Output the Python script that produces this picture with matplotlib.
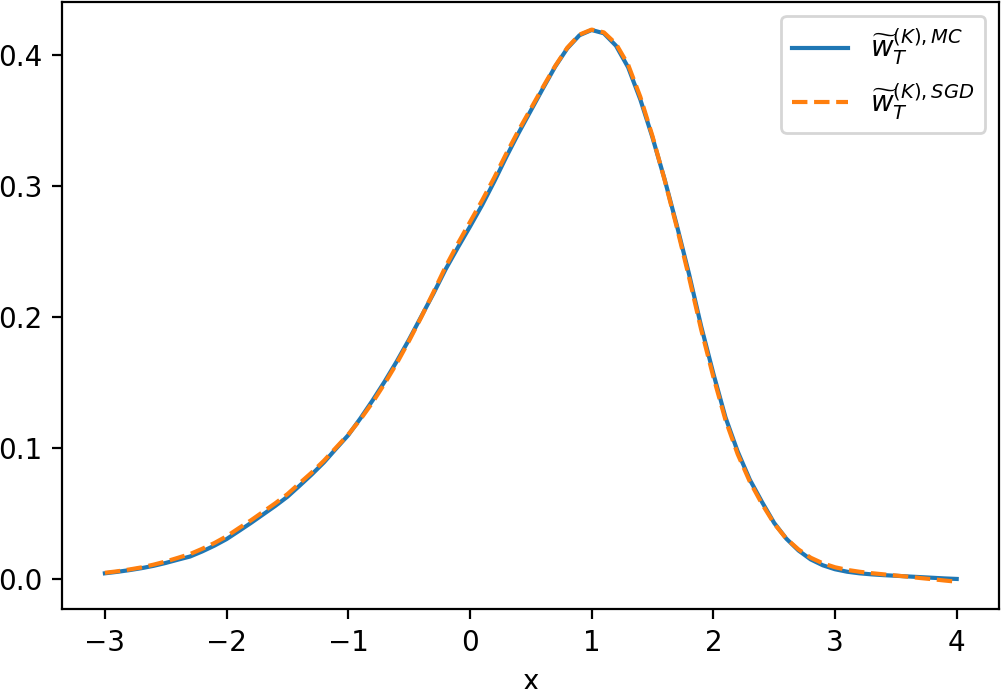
import numpy as np
import matplotlib
matplotlib.use('Agg')
import matplotlib.pyplot as plt

# grid (step 0.1) and both curves
x = np.round(np.arange(-3.0, 4.01, 0.1), 1)

w_mc = [0.0046, 0.0057, 0.0070, 0.0085, 0.0103, 0.0125, 0.0150, 0.0174, 0.0213, 0.0257,
        0.0307, 0.0368, 0.0430, 0.0495, 0.0560, 0.0630, 0.0714, 0.0800, 0.0892, 0.0997,
        0.1100, 0.1228, 0.1365, 0.1510, 0.1665, 0.1830, 0.2005, 0.2180, 0.2365, 0.2530,
        0.2690, 0.2855, 0.3035, 0.3225, 0.3405, 0.3575, 0.3745, 0.3910, 0.4050, 0.4150,
        0.4190, 0.4165, 0.4070, 0.3905, 0.3660, 0.3370, 0.3050, 0.2700, 0.2330, 0.1930,
        0.1570, 0.1235, 0.0975, 0.0760, 0.0590, 0.0430, 0.0310, 0.0220, 0.0152, 0.0107,
        0.0077, 0.0058, 0.0046, 0.0038, 0.0032, 0.0027, 0.0022, 0.0017, 0.0012, 0.0007,
        0.0003]

w_sgd = [0.0050, 0.0061, 0.0075, 0.0091, 0.0112, 0.0136, 0.0164, 0.0193, 0.0233, 0.0277,
         0.0328, 0.0390, 0.0450, 0.0515, 0.0580, 0.0650, 0.0733, 0.0815, 0.0905, 0.1005,
         0.1105, 0.1220, 0.1350, 0.1495, 0.1650, 0.1820, 0.2000, 0.2190, 0.2385, 0.2560,
         0.2725, 0.2890, 0.3065, 0.3250, 0.3425, 0.3590, 0.3755, 0.3915, 0.4055, 0.4155,
         0.4193, 0.4172, 0.4085, 0.3925, 0.3680, 0.3380, 0.3045, 0.2685, 0.2305, 0.1905,
         0.1545, 0.1215, 0.0955, 0.0745, 0.0575, 0.0425, 0.0310, 0.0228, 0.0165, 0.0122,
         0.0092, 0.0072, 0.0058, 0.0047, 0.0038, 0.0029, 0.0020, 0.0010, 0.0001, -0.0009,
         -0.0018]

fig = plt.figure(figsize=(1001/200, 689/200), dpi=200)
ax = fig.add_axes([62.3/1001, (689-609.3)/689, (999.3-62.3)/1001, (609.3-2)/689])

ax.plot(x, w_mc, '-', color='#1f77b4', linewidth=1.5,
        label=r'$\widetilde{w}_T^{(K),MC}$')
ax.plot(x, w_sgd, '--', color='#ff7f0e', linewidth=1.5,
        label=r'$\widetilde{w}_T^{(K),SGD}$')

ax.set_xlabel('x')
ax.legend(loc='upper right')

fig.savefig('out.png', dpi=200)
